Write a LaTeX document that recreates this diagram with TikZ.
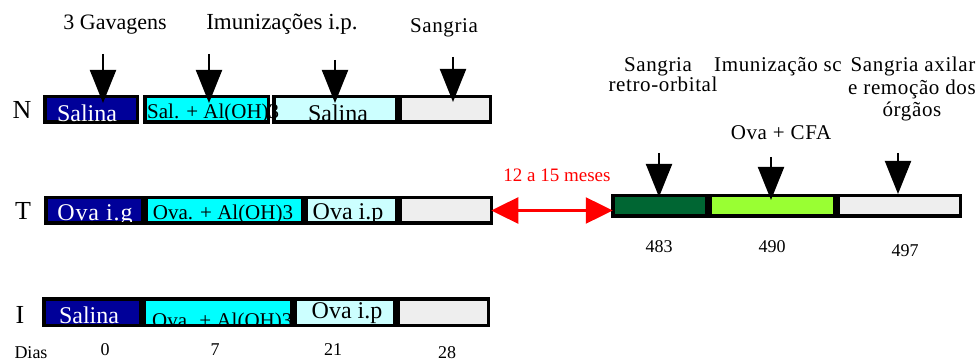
\documentclass[tikz,border=0pt]{standalone}
\usepackage{fontspec}
\setmainfont{Liberation Serif}
\usetikzlibrary{arrows.meta}
\definecolor{navyb}{HTML}{000099}
\definecolor{cyanb}{HTML}{00FFFF}
\definecolor{lcyan}{HTML}{CCFFFF}
\definecolor{lgray}{HTML}{EEEEEE}
\definecolor{dgreen}{HTML}{006633}
\definecolor{lime}{HTML}{99FF33}
\definecolor{redarr}{HTML}{FF0000}
\newcommand{\barbox}[6]{\node[bar, fill=#6, minimum width={#4pt-#2pt-3.5pt}, minimum height={#5pt-#3pt-3.5pt}] (#1) at (#2+1.75,#3+1.75) {};}
\begin{document}
\begin{tikzpicture}[x=1pt,y=-1pt,
  bar/.style={draw=black, line width=3.5pt, inner sep=0pt, outer sep=0pt, anchor=north west},
  lbl/.style={inner sep=0pt, anchor=base, font=\fontsize{22}{22}\selectfont},
  sml/.style={inner sep=0pt, anchor=base, font=\fontsize{21}{21}\selectfont\addfontfeature{LetterSpace=3}},
  num/.style={inner sep=0pt, anchor=base, font=\fontsize{18}{18}\selectfont},
  row/.style={inner sep=0pt, anchor=base, font=\fontsize{26}{26}\selectfont},
  big/.style={inner sep=0pt, anchor=base, font=\fontsize{24}{24}\selectfont},
  mid/.style={inner sep=0pt, anchor=base, font=\fontsize{21}{21}\selectfont},
  downarrow/.style={-{Triangle[width=26pt,length=33pt]}, line width=2pt, black},
  rdarrow/.style={{Triangle[width=26pt,length=27pt]}-{Triangle[width=26pt,length=27pt]}, line width=2.5pt, redarr}]
\useasboundingbox (0,0) rectangle (979,363);
% row N
\barbox{n1}{43}{95}{139}{124}{navyb}
\barbox{n2}{143}{95}{270}{124}{cyanb}
\barbox{n3}{272}{95}{398}{124}{lcyan}
\barbox{n4}{398}{95}{492}{124}{lgray}
% row T
\barbox{t1}{44}{196}{144}{225}{navyb}
\barbox{t2}{144}{196}{304}{225}{cyanb}
\barbox{t3}{304}{196}{398}{225}{lcyan}
\barbox{t4}{398}{196}{493}{225}{lgray}
% row I
\barbox{i1}{42}{297}{142}{327}{navyb}
\barbox{i2}{142}{297}{293}{327}{cyanb}
\barbox{i3}{293}{297}{396}{327}{lcyan}
\barbox{i4}{396}{297}{490}{327}{lgray}
% right
\barbox{r1}{611}{194}{708}{218}{dgreen}
\barbox{r2}{708}{194}{836}{218}{lime}
\barbox{r3}{836}{194}{962}{218}{lgray}
% row labels
\node[row] (lN) at (22,119) {N};
\node[row] (lT) at (23,220) {T};
\node[row] (lI) at (20,323) {I};
% box texts N
\node[big, text=white] (n1t) at (87,122) {Salina};
\node[mid, anchor=base west] (n2t) at (147,119) {Sal. + Al(OH)3};
\node[big] (n3t) at (338,122) {Salina};
% box texts T
\begin{scope}
\clip ([shift={(1.75,1.75)}]t1.north west) rectangle ([shift={(-1.75,-1.75)}]t1.south east);
\node[big, text=white, font=\fontsize{24}{24}\selectfont\addfontfeature{LetterSpace=4}] (t1t) at (95,221) {Ova i.g};
\end{scope}
\node[mid] (t2t) at (223,220) {Ova. + Al(OH)3};
\node[big] (t3t) at (348,220) {Ova i.p};
% box texts I
\node[big, text=white] (i1t) at (89,323) {Salina};
\begin{scope}
\clip ([shift={(1.75,1.75)}]i2.north west) rectangle ([shift={(-1.75,-1.75)}]i2.south east);
\node[mid, anchor=base west] (i2t) at (152,327) {Ova. + Al(OH)3};
\end{scope}
\node[big] (i3t) at (347,318) {Ova i.p};
% top labels
\node[lbl] (g1) at (115,30) {3 Gavagens};
\node[lbl, font=\fontsize{23}{23}\selectfont] (g2) at (282,30) {Imunizações i.p.};
\node[sml] (g3) at (444,33) {Sangria};
% right labels
\node[sml] (h1a) at (658,72) {Sangria};
\node[sml] (h1b) at (663,92) {retro-orbital};
\node[sml] (h2) at (778,72) {Imunização sc};
\node[sml] (h3a) at (913,72) {Sangria axilar};
\node[sml] (h3b) at (912,95) {e remoção dos};
\node[sml] (h3c) at (912,117) {órgãos};
\node[sml] (h2b) at (781,140) {Ova + CFA};
\node[num, text=redarr, font=\fontsize{19}{19}\selectfont] (meses) at (557,182) {12 a 15 meses};
% day numbers
\node[num] (dias) at (31,358) {Dias};
\node[num] (d0) at (105,355) {0};
\node[num] (d7) at (215,355) {7};
\node[num] (d21) at (333,355) {21};
\node[num] (d28) at (447,358) {28};
\node[num] (d483) at (659,253) {483};
\node[num] (d490) at (772,253) {490};
\node[num] (d497) at (905,257) {497};
% arrow coordinates
\coordinate (a1s) at (103,54); \coordinate (a1e) at (103,103);
\coordinate (a2s) at (209,54); \coordinate (a2e) at (209,103);
\coordinate (a3s) at (335,60); \coordinate (a3e) at (335,103);
\coordinate (a4s) at (453,57); \coordinate (a4e) at (453,102);
\coordinate (b1s) at (659,153); \coordinate (b1e) at (659,197);
\coordinate (b2s) at (771,157); \coordinate (b2e) at (771,200);
\coordinate (b3s) at (898,153); \coordinate (b3e) at (898,194);
\foreach \s/\e in {a1s/a1e,a2s/a2e,a3s/a3e,a4s/a4e,b1s/b1e,b2s/b2e,b3s/b3e}
  \draw[downarrow] (\s) -- (\e);
\draw[rdarrow] (t4.east) -- (t4.east -| r1.west);
\end{tikzpicture}
\end{document}
